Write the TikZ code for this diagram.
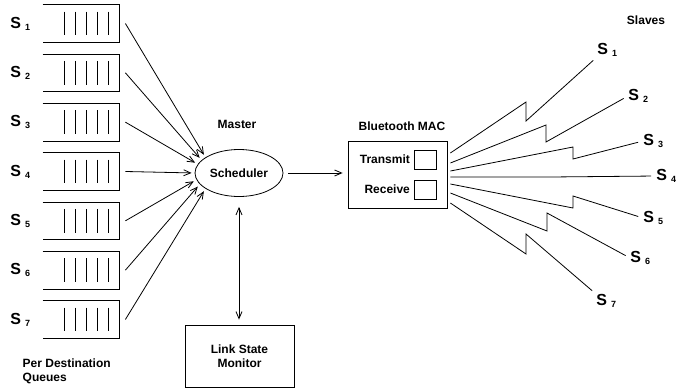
\documentclass[tikz,border=0pt]{standalone}
\usepackage{fontspec}
\setmainfont{Liberation Sans}
\usetikzlibrary{arrows.meta}
\usetikzlibrary{shapes.geometric}

\tikzset{
  barb/.style={-{Straight Barb[length=7pt,width=6pt]}},
  dbarb/.style={{Straight Barb[length=7pt,width=6pt]}-{Straight Barb[length=7pt,width=6pt]}},
  queue/.style={minimum width=76pt,minimum height=37pt,inner sep=0pt},
  lbl/.style={font=\fontsize{12}{14}\selectfont\bfseries},
  station/.style={font=\fontsize{16}{18}\selectfont\bfseries,inner sep=0pt,anchor=west},
}
\newcommand{\stn}[1]{S\hspace{4pt}\raisebox{-2pt}{\fontsize{9}{9}\selectfont #1}}

\begin{document}
\begin{tikzpicture}[x=1pt,y=-1pt,line width=0.8pt]
    \useasboundingbox (0,0) rectangle (678,389);

    % per destination queues, open on the left
    \foreach \i in {1,...,7} {
        \node[queue] (q\i) at (81,{23.5+(\i-1)*49.33}) {};
        \draw (q\i.north west) -- (q\i.north east) -- (q\i.south east) -- (q\i.south west);
        \foreach \k in {1,...,5}
            \draw ([xshift={-11pt*\k},yshift=-7pt]q\i.north east) -- ([xshift={-11pt*\k},yshift=7pt]q\i.south east);
        \node[station] (m\i) at (10,{23.5+(\i-1)*49.33}) {\stn{\i}};
    }
    \node[lbl,align=left,anchor=west] (pdq) at (19,371) {Per Destination\\Queues};

    % master scheduler
    \node[draw,ellipse,lbl,minimum width=88pt,minimum height=47pt,inner sep=0pt] (sched) at (239,173) {Scheduler};
    \node[lbl] (master) at (237,124) {Master};

    \foreach \i/\a in {1/155,2/161,3/168,4/180,5/189,6/196,7/205}
        \draw[barb,shorten >=3pt] ([xshift=6pt]q\i.east) -- (sched.\a);

    % Bluetooth MAC
    \node[draw,minimum width=99pt,minimum height=67pt] (mac) at (397.5,174.5) {};
    \node[lbl] (bt) at (402,126) {Bluetooth MAC};
    \node[draw,minimum width=22pt,minimum height=19pt] (tx) at (425,159.5) {};
    \node[draw,minimum width=22pt,minimum height=19pt] (rx) at (425,189.5) {};
    \node[lbl,anchor=east] (txl) at (tx.west) {Transmit};
    \node[lbl,anchor=east] (rxl) at (rx.west) {Receive};

    \draw[barb,shorten <=5pt,shorten >=5pt] (sched.east) -- (sched.east -| mac.west);

    % link state monitor
    \node[draw,lbl,align=center,minimum width=109pt,minimum height=62pt] (lsm) at (239.5,356) {Link State\\Monitor};
    \draw[dbarb,shorten <=10pt,shorten >=5pt] (sched.south) -- (sched.south |- lsm.north);

    % slaves
    \node[lbl] (slaves) at (646,20) {Slaves};
    \foreach \i/\x/\y in {1/597/50,2/628/96,3/643/141,4/656/176,5/643/218,6/630/258,7/596/301}
        \node[station] (s\i) at (\x,\y) {\stn{\i}};

    % radio links
    \foreach \i/\dy/\xb/\ya/\yb/\anc in {1/-21.5/526/102/121/south west,
                                          2/-11.5/546/125/142/west,
                                          3/-3.5/573/147/159/west,
                                          4/2.5/550/177/177/west,
                                          5/9.5/573/208/196/west,
                                          6/18.5/547/231/213/west,
                                          7/28.5/526/254/234/north west}
        \draw[shorten >=5pt] ([shift={(3,\dy)}]mac.east) -- (\xb,\ya) -- (\xb,\yb) -- (s\i.\anc);

\end{tikzpicture}
\end{document}
